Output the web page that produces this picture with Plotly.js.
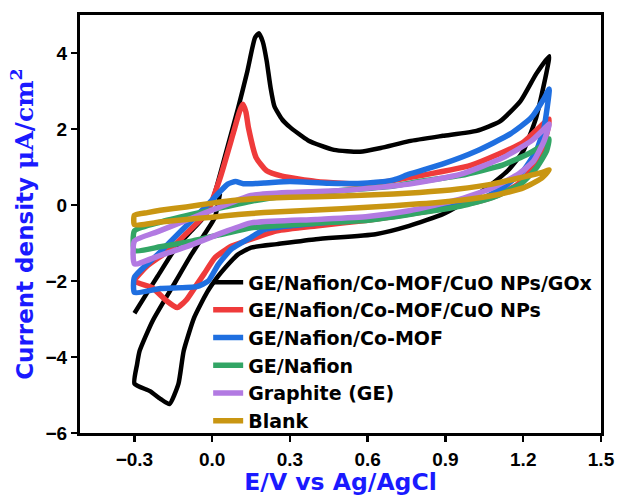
<!DOCTYPE html>
<html>
<head>
<meta charset="utf-8">
<script src="https://cdn.plot.ly/plotly-3.0.1.min.js"></script>
<style>html,body{margin:0;padding:0;background:#fff;}</style>
</head>
<body>
<div id="chart" style="width:617px;height:496px;"></div>
<script>
// Series names
const seriesNames = [
  "GE/Nafion/Co-MOF/CuO NPs/GOx",
  "GE/Nafion/Co-MOF/CuO NPs",
  "GE/Nafion/Co-MOF",
  "GE/Nafion",
  "Graphite (GE)",
  "Blank"
];
const seriesColors = ["#000000", "#ef3b3b", "#1f6fe0", "#32a565", "#b27ae2", "#c99612"];

// GE/Nafion/Co-MOF/CuO NPs/GOx (potential V, current density µA/cm²)
const goxX = [-0.30,-0.25,-0.21,-0.14,-0.08,-0.03,0.00,0.02,0.06,0.10,0.135,0.165,0.18,0.195,0.21,0.225,0.24,0.27,0.30,0.37,0.47,0.57,0.65,0.76,0.89,1.02,1.11,1.19,1.25,1.30,
  1.29,1.25,1.20,1.14,1.06,0.98,0.89,0.76,0.63,0.40,0.25,0.15,0.10,0.05,0.02,-0.02,-0.07,-0.11,-0.13,-0.165,-0.20,-0.24,-0.30,
  -0.29,-0.28,-0.23,-0.14,-0.08,-0.03,0.01,0.03];
const goxY = [-2.85,-2.3,-1.87,-1.12,-0.68,-0.3,0.1,0.55,1.55,2.55,3.5,4.4,4.52,4.3,3.8,3.1,2.6,2.25,2.05,1.7,1.45,1.4,1.5,1.68,1.82,1.95,2.2,2.74,3.45,3.92,
  3.5,2.3,1.42,0.9,0.45,0.1,-0.24,-0.55,-0.77,-0.9,-1.03,-1.12,-1.3,-1.65,-1.9,-2.3,-2.97,-3.84,-4.7,-5.24,-5.1,-4.9,-4.7,
  -4.2,-3.84,-3.05,-2.0,-1.3,-0.77,-0.33,0.3];

// GE/Nafion/Co-MOF/CuO NPs
const cuoX = [-0.30,-0.25,-0.17,-0.10,-0.02,0.03,0.08,0.105,0.118,0.13,0.14,0.17,0.21,0.27,0.40,0.60,0.76,1.00,1.20,1.30,
  1.28,1.24,1.18,1.10,1.00,0.80,0.60,0.40,0.25,0.15,0.076,0.01,-0.03,-0.06,-0.10,-0.135,-0.18,-0.23,-0.30];
const cuoY = [-2.0,-1.6,-1.21,-0.75,-0.2,0.7,1.86,2.45,2.65,2.45,2.03,1.24,0.9,0.76,0.62,0.55,0.72,1.05,1.65,2.26,
  1.6,1.0,0.55,0.25,0.05,-0.2,-0.4,-0.55,-0.68,-0.9,-1.08,-1.39,-1.8,-2.1,-2.5,-2.7,-2.5,-2.18,-2.0];

// GE/Nafion/Co-MOF
const mofX = [-0.30,-0.21,-0.12,-0.03,0.03,0.06,0.09,0.12,0.20,0.30,0.45,0.60,0.70,0.76,0.89,1.02,1.15,1.23,1.28,1.30,
  1.28,1.25,1.20,1.12,1.02,0.89,0.75,0.66,0.50,0.30,0.20,0.15,0.076,0.024,-0.015,-0.06,-0.20,-0.30,-0.30];
const mofY = [-1.9,-1.3,-0.68,-0.08,0.35,0.55,0.62,0.56,0.58,0.62,0.57,0.58,0.66,0.81,1.08,1.42,1.87,2.29,2.8,3.05,
  2.03,1.42,0.9,0.45,0.1,-0.07,-0.2,-0.33,-0.42,-0.55,-0.65,-0.85,-1.15,-1.56,-2.0,-2.15,-2.2,-2.3,-1.9];

// GE/Nafion
const nafX = [-0.30,-0.20,-0.08,0.05,0.15,0.30,0.50,0.70,0.80,0.96,1.12,1.22,1.28,1.30,
  1.29,1.25,1.19,1.08,0.96,0.76,0.60,0.40,0.15,0.05,-0.08,-0.20,-0.30,-0.30];
const nafY = [-0.68,-0.45,-0.25,-0.05,0.1,0.25,0.38,0.5,0.62,0.78,1.05,1.35,1.6,1.74,
  1.42,0.97,0.55,0.19,-0.03,-0.25,-0.4,-0.48,-0.6,-0.75,-0.95,-1.1,-1.2,-0.68];

// Graphite (GE)
const geX = [-0.30,-0.21,-0.08,0.05,0.15,0.30,0.50,0.76,0.96,1.12,1.23,1.28,1.30,
  1.28,1.24,1.18,1.08,0.96,0.76,0.60,0.40,0.15,0.05,-0.08,-0.21,-0.30,-0.30];
const geY = [-0.95,-0.7,-0.35,0.0,0.25,0.33,0.38,0.55,0.81,1.24,1.68,2.0,2.13,
  1.68,1.16,0.81,0.45,0.16,-0.15,-0.3,-0.38,-0.47,-0.7,-1.05,-1.35,-1.55,-0.95];

// Blank
const blankX = [-0.30,-0.25,-0.20,-0.10,0.00,0.10,0.20,0.40,0.60,0.80,0.95,1.08,1.19,1.27,1.30,
  1.27,1.20,1.10,0.95,0.80,0.60,0.40,0.20,0.10,0.00,-0.10,-0.20,-0.30,-0.30];
const blankY = [-0.27,-0.2,-0.14,-0.05,0.05,0.13,0.18,0.22,0.26,0.33,0.42,0.55,0.72,0.85,0.92,
  0.7,0.45,0.27,0.12,0.03,-0.06,-0.13,-0.2,-0.25,-0.32,-0.38,-0.45,-0.52,-0.27];

const xTicks = [-0.3, 0.0, 0.3, 0.6, 0.9, 1.2, 1.5];
const yTicks = [-6, -4, -2, 0, 2, 4];

const allX = [goxX, cuoX, mofX, nafX, geX, blankX];
const allY = [goxY, cuoY, mofY, nafY, geY, blankY];
const widths = [4.5, 5.5, 5.5, 5.5, 5.5, 5.5];

const traces = allX.map((xs, i) => ({
  type: "scatter",
  mode: "lines",
  x: xs,
  y: allY[i],
  name: seriesNames[i],
  line: {color: seriesColors[i], width: widths[i], shape: "spline", smoothing: 0.5}
}));

const tickFont = {family: "Liberation Sans, Arial, sans-serif", size: 19, color: "#000", weight: "bold"};

const layout = {
  width: 617,
  height: 496,
  margin: {l: 80, r: 16, t: 15, b: 63},
  paper_bgcolor: "#ffffff",
  plot_bgcolor: "#ffffff",
  font: {family: "DejaVu Sans, Arial, sans-serif", color: "#000", weight: "bold"},
  showlegend: true,
  legend: {
    x: 0.246, y: 0.406, xanchor: "left", yanchor: "top",
    bgcolor: "rgba(0,0,0,0)",
    font: {family: "DejaVu Sans", size: 19, color: "#000", weight: "bold"},
    tracegroupgap: 0
  },
  xaxis: {
    range: [-0.51, 1.5],
    tickvals: xTicks,
    ticktext: xTicks.map(v => (v < 0 ? "\u2212" : "") + Math.abs(v).toFixed(1)),
    showgrid: false, zeroline: false,
    showline: true, linewidth: 3, linecolor: "#000", mirror: true,
    ticks: "outside", ticklen: 6, tickwidth: 2.5, tickcolor: "#000",
    ticklabelstandoff: 1,
    tickfont: tickFont,
    title: {text: "E/V vs Ag/AgCl", font: {family: "DejaVu Sans", size: 23.5, color: "#1a1aff", weight: "bold"}, standoff: 7}
  },
  yaxis: {
    range: [-6, 5],
    tickvals: yTicks,
    ticktext: yTicks.map(v => (v < 0 ? "\u2212" : "") + Math.abs(v)),
    showgrid: false, zeroline: false,
    showline: true, linewidth: 3, linecolor: "#000", mirror: true,
    ticks: "outside", ticklen: 6, tickwidth: 2.5, tickcolor: "#000",
    tickfont: tickFont,
    title: {text: "Current density <span style='font-family:DejaVu Serif;font-size:25px'>\u03bcA/cm<sup>2</sup></span>", font: {family: "DejaVu Sans", size: 23, color: "#1a1aff", weight: "bold"}, standoff: 6}
  }
};

Plotly.newPlot("chart", traces, layout, {displayModeBar: false, staticPlot: true});
</script>
</body>
</html>
